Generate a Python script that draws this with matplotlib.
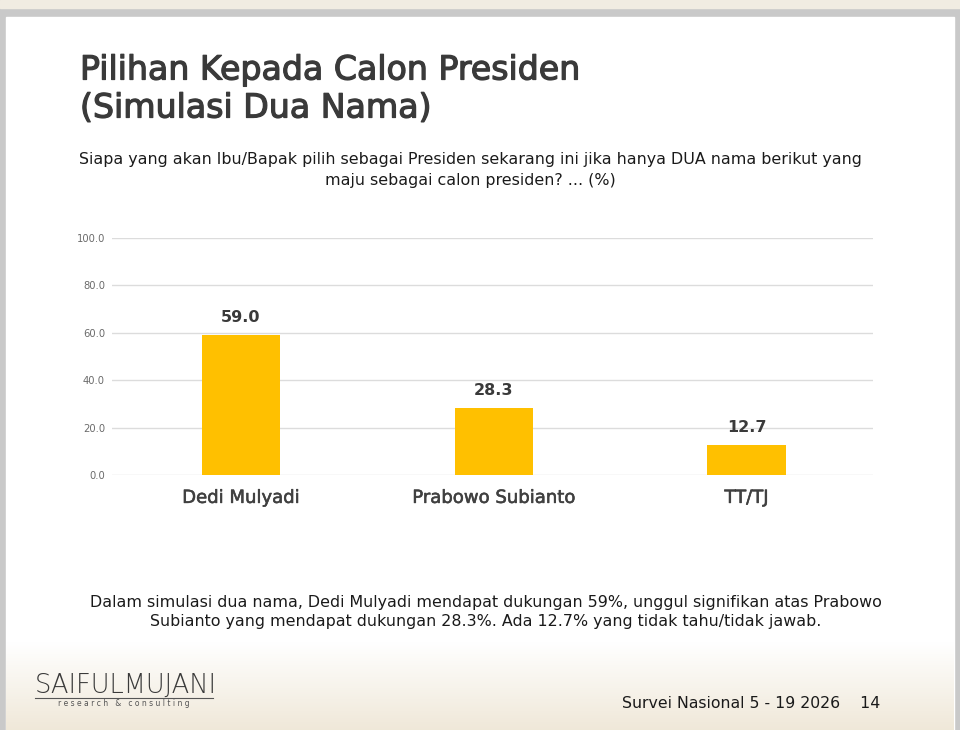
import matplotlib
matplotlib.use("Agg")
import matplotlib.pyplot as plt
from matplotlib.patches import Rectangle
import matplotlib.patheffects as pe
import numpy as np

categories = ["Dedi Mulyadi", "Prabowo Subianto", "TT/TJ"]
values = [59.0, 28.3, 12.7]
yticks = [0, 20, 40, 60, 80, 100]

title_lines = ["Pilihan Kepada Calon Presiden", "(Simulasi Dua Nama)"]
question = ("Siapa yang akan Ibu/Bapak pilih sebagai Presiden sekarang ini jika hanya DUA nama berikut yang\n"
            "maju sebagai calon presiden? ... (%)")
summary = ("Dalam simulasi dua nama, Dedi Mulyadi mendapat dukungan 59%, unggul signifikan atas Prabowo\n"
           "Subianto yang mendapat dukungan 28.3%. Ada 12.7% yang tidak tahu/tidak jawab.")
footer = "Survei Nasional 5 - 19 2026    14"

W, H = 960, 730
fig = plt.figure(figsize=(9.6, 7.3), dpi=100)
fig.patch.set_facecolor("#c9c9c9")

def fx(px): return px / W
def fy(py): return 1 - py / H

# background panels
bg = fig.add_axes([0, 0, 1, 1], zorder=-10)
bg.set_xlim(0, W); bg.set_ylim(H, 0); bg.axis("off")
bg.add_patch(Rectangle((0, 0), W, 8, color="#f1ece2"))
bg.add_patch(Rectangle((6, 17), 948, 720, color="white"))
grad = np.linspace(0, 1, 100)[:, None, None]
img = (1 - grad) * np.array([1, 1, 1]) + grad * np.array([0.94, 0.91, 0.85])
img = np.repeat(img, 2, axis=1)
bg.imshow(img, extent=(6, 954, 730, 642), aspect="auto", zorder=1)
bg.set_xlim(0, W); bg.set_ylim(H, 0)

# main bar axes
ax = fig.add_axes([fx(112), fy(475), fx(873) - fx(112), fy(238) - fy(475)])
ax.set_facecolor("none")
x = np.arange(len(categories))
ax.bar(x, values, width=0.31, color="#FFC000", zorder=3)
ax.set_xlim(-0.51, 2.5)
ax.set_ylim(0, 100)
ax.set_yticks(yticks)
ax.set_yticklabels([f"{v:.1f}" for v in yticks], fontsize=7.2, color="#6b6b6b")
ax.yaxis.grid(True, color="#dcdcdc", linewidth=1, zorder=0)
ax.tick_params(axis="y", length=0, pad=5)
ax.tick_params(axis="x", length=0, pad=10)
ax.set_xticks(x)
ax.set_xticklabels(categories, fontsize=13, color="#404040")
for lbl in ax.get_xticklabels():
    lbl.set_path_effects([pe.withStroke(linewidth=0.4, foreground="#404040")])
for s in ax.spines.values():
    s.set_visible(False)
for xi, v in zip(x, values):
    ax.annotate(f"{v:.1f}", (xi, v), xytext=(0, 7), textcoords="offset points",
                ha="center", va="bottom", fontsize=11.5, fontweight="bold", color="#3a3a3a")

# texts
stroke = [pe.withStroke(linewidth=0.9, foreground="#3a3a3a")]
fig.text(fx(80), fy(70), title_lines[0], fontsize=23.9, color="#3a3a3a", va="center", ha="left",
         path_effects=stroke)
fig.text(fx(80), fy(108), title_lines[1], fontsize=23.9, color="#3a3a3a", va="center", ha="left",
         path_effects=stroke)
fig.text(fx(470), fy(170), question, fontsize=11.4, color="#1a1a1a", ha="center", va="center",
         linespacing=1.45)
fig.text(fx(486), fy(612), summary, fontsize=11.4, color="#1a1a1a", ha="center", va="center",
         linespacing=1.33)
fig.text(fx(35), fy(685), "SAIFULMUJANI", fontsize=18.5, color="#3a3a3a", ha="left", va="center",
         fontweight="light")
bg.plot([35, 213], [698, 698], color="#555555", lw=0.8, zorder=3)
fig.text(fx(124), fy(704), "r e s e a r c h   &   c o n s u l t i n g", fontsize=5.5, color="#555555",
         ha="center", va="center")
fig.text(fx(880), fy(703), footer, fontsize=11.3, color="#1a1a1a", ha="right", va="center")

fig.savefig("out.png", dpi=100)
